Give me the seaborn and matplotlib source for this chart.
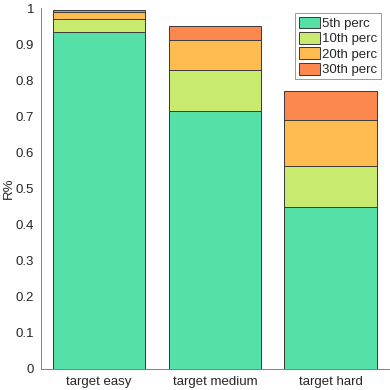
import matplotlib
matplotlib.use("Agg")
import matplotlib.pyplot as plt
import seaborn as sns
import pandas as pd
from matplotlib.patches import Patch

categories = ["target easy", "target medium", "target hard"]
series_names = ["5th perc", "10th perc", "20th perc", "30th perc"]
# cumulative R% reached at each percentile
p5 = [0.933, 0.715, 0.450]
p10 = [0.969, 0.828, 0.563]
p20 = [0.989, 0.913, 0.689]
p30 = [0.996, 0.950, 0.770]
colors = ["#55E0A8", "#C7EA6F", "#FDBB50", "#FD884F"]
yticks = [0, 0.1, 0.2, 0.3, 0.4, 0.5, 0.6, 0.7, 0.8, 0.9, 1]
ytick_labels = ["0", "0.1", "0.2", "0.3", "0.4", "0.5", "0.6", "0.7", "0.8", "0.9", "1"]

sns.set_theme(style="white")
plt.rcParams["font.family"] = ["Liberation Sans", "DejaVu Sans"]

fig = plt.figure(figsize=(3.9, 3.9), dpi=100)
ax = fig.add_axes([0.105, 0.054, 0.892, 0.925])

series = [p5, p10, p20, p30]
# draw tallest cumulative first so smaller ones overlay
for vals, col in reversed(list(zip(series, colors))):
    df = pd.DataFrame({"cat": categories, "val": vals})
    sns.barplot(data=df, x="cat", y="val", order=categories, color=col,
                saturation=1, width=0.8, edgecolor="#3a3a3a", linewidth=0.7,
                ax=ax)

ax.set_xlim(-0.5, 2.5)
ax.set_ylim(0, 1)
ax.set_yticks(yticks)
ax.set_yticklabels(ytick_labels)
ax.set_xlabel("")
ax.set_ylabel("R%", fontsize=9.5, color="#262626")
ax.yaxis.set_label_coords(-0.076, 0.5)
for s in ["top", "right"]:
    ax.spines[s].set_visible(False)
for s in ["left", "bottom"]:
    ax.spines[s].set_color("#808080")
    ax.spines[s].set_linewidth(0.7)
ax.tick_params(axis="y", direction="in", length=4, width=0.7, color="#808080",
               labelsize=9.5, labelcolor="#262626", pad=5)
ax.tick_params(axis="x", direction="in", length=0, labelsize=9.5,
               labelcolor="#262626", pad=5)

handles = [Patch(facecolor=c, edgecolor="#3a3a3a", linewidth=0.7) for c in colors]
leg = ax.legend(handles, series_names, loc="upper right",
                bbox_to_anchor=(0.977, 0.986), borderaxespad=0,
                fontsize=9.5, frameon=True, fancybox=False,
                handlelength=1.6, handleheight=1.0, handletextpad=0.2,
                labelspacing=0.15, borderpad=0.25)
leg.get_frame().set_edgecolor("#808080")
leg.get_frame().set_linewidth(0.7)

fig.savefig("out.png", dpi=100)
